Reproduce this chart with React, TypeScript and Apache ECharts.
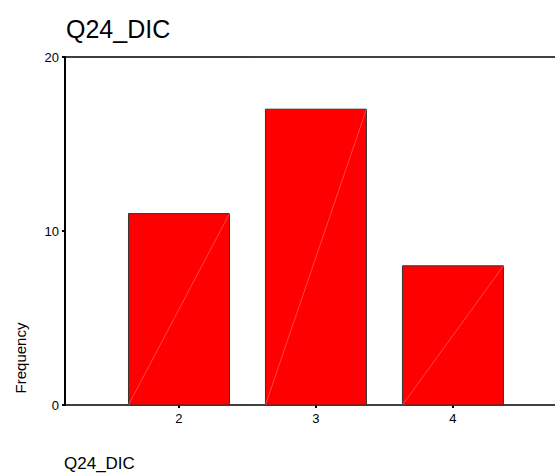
import React, { useEffect, useRef } from "react";
import * as echarts from "echarts";

const categories = [2, 3, 4];
const frequencies = [11, 17, 8];
const yTicks = [0, 10, 20];
const titleText = "Q24_DIC";
const yAxisTitle = "Frequency";
const xAxisTitle = "Q24_DIC";

const FONT = "'Liberation Sans', Arial, sans-serif";

export default function App() {
  const ref = useRef<HTMLDivElement>(null);
  useEffect(() => {
    if (!ref.current) return;
    const chart = echarts.init(ref.current, null, { renderer: "svg" });
    const halfWidth = 0.3686;
    chart.setOption({
      animation: false,
      backgroundColor: "#ffffff",
      textStyle: { fontFamily: FONT },
      title: {
        text: titleText,
        left: 61,
        top: 11,
        textStyle: { fontSize: 25, fontWeight: "normal", color: "#000", fontFamily: FONT },
      },
      grid: { left: 65, right: 0, top: 57, bottom: 69, containLabel: false },
      xAxis: [
        {
          type: "value",
          min: 1.168,
          max: 4.745,
          splitLine: { show: false },
          axisLine: { show: true, lineStyle: { color: "#000", width: 1.5 } },
          axisTick: { show: true, length: 3, customValues: categories, lineStyle: { color: "#000", width: 2 } },
          axisLabel: {
            show: true,
            customValues: categories,
            fontSize: 13,
            color: "#000",
            margin: 7,
            fontFamily: FONT,
          },
        },
        {
          type: "value",
          position: "top",
          min: 1.168,
          max: 4.745,
          splitLine: { show: false },
          axisLine: { show: true, onZero: false, lineStyle: { color: "#000", width: 1.5 } },
          axisTick: { show: false },
          axisLabel: { show: false },
        },
      ],
      yAxis: {
        type: "value",
        min: 0,
        max: 20,
        interval: 10,
        splitLine: { show: false },
        axisLine: { show: true, lineStyle: { color: "#000", width: 2 } },
        axisTick: { show: true, length: 3, lineStyle: { color: "#000", width: 2 } },
        axisLabel: {
          fontSize: 13,
          color: "#000",
          margin: 6,
          fontFamily: FONT,
          customValues: yTicks,
        },
      },
      series: [
        {
          type: "custom",
          xAxisIndex: 0,
          yAxisIndex: 0,
          data: categories.map((c, i) => [c, frequencies[i]]),
          renderItem: (params: any, api: any) => {
            const x = api.value(0);
            const v = api.value(1);
            const p0 = api.coord([x - halfWidth, 0]);
            const p1 = api.coord([x + halfWidth, v]);
            return {
              type: "group",
              children: [
                {
                  type: "rect",
                  shape: { x: p0[0], y: p1[1], width: p1[0] - p0[0], height: p0[1] - p1[1] },
                  style: { fill: "#ff0000", stroke: "#333333", lineWidth: 1 },
                },
                {
                  type: "line",
                  shape: { x1: p0[0], y1: p0[1], x2: p1[0], y2: p1[1] },
                  style: { stroke: "rgba(255,255,255,0.45)", lineWidth: 0.6 },
                },
              ],
            };
          },
        },
      ],
      graphic: [
        {
          type: "text",
          x: 20,
          y: 358,
          rotation: Math.PI / 2,
          style: {
            text: yAxisTitle,
            fontSize: 15,
            fill: "#000",
            fontFamily: FONT,
            align: "center",
            verticalAlign: "middle",
          },
        },
        {
          type: "text",
          left: 64,
          top: 455,
          style: {
            text: xAxisTitle,
            fontSize: 17,
            fill: "#000",
            fontFamily: FONT,
          },
        },
      ],
    });
    return () => chart.dispose();
  }, []);
  return <div ref={ref} style={{ width: 555, height: 474, position: "absolute", left: 0, top: 0 }} />;
}
